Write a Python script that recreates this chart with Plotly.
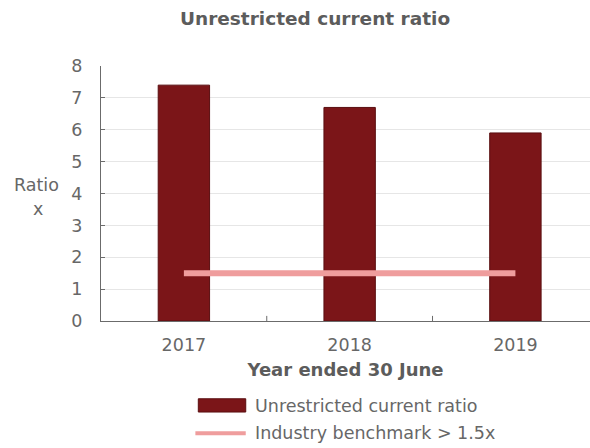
import plotly.graph_objects as go

# Unrestricted current ratio by financial year
years = ["2017", "2018", "2019"]
ratio = [7.4, 6.7, 5.9]
benchmark = [1.5, 1.5, 1.5]
y_ticks = [0, 1, 2, 3, 4, 5, 6, 7, 8]

bar_name = "Unrestricted current ratio"
line_name = "Industry benchmark > 1.5x"

font_family = "DejaVu Sans, Verdana, sans-serif"
text_grey = "#676767"
head_grey = "#5c5c5c"
bar_red = "#7b1518"
line_pink = "#ef9d9d"
fs = 17.5

fig = go.Figure()

fig.add_trace(go.Bar(
    x=years, y=ratio, name=bar_name,
    marker=dict(color=bar_red, line=dict(color="#5a0e10", width=1)),
    width=0.31, showlegend=False,
))

fig.add_trace(go.Scatter(
    x=years, y=benchmark, name=line_name, mode="lines",
    line=dict(color=line_pink, width=6), showlegend=False,
))

fig.update_layout(
    width=590, height=448,
    margin=dict(l=101, r=0, t=66, b=127),
    paper_bgcolor="white", plot_bgcolor="white",
    font=dict(family=font_family, size=fs, color=text_grey),
    title=dict(
        text="<b>Unrestricted current ratio</b>",
        x=0.534, xanchor="center", y=0.958, yanchor="middle",
        font=dict(size=18.5, color=head_grey),
    ),
    showlegend=False,
)

fig.update_xaxes(
    type="category", range=[-0.5, 2.45],
    showline=True, linecolor="#6b6b6b", linewidth=1,
    ticks="", showgrid=False, ticklabelstandoff=8,
    tickfont=dict(size=fs, color=text_grey),
    title=dict(text="<b>Year ended 30 June</b>", standoff=9,
               font=dict(size=18, color=head_grey)),
)

fig.update_yaxes(
    range=[0, 8], tickvals=y_ticks,
    showline=True, linecolor="#6b6b6b", linewidth=1,
    ticks="inside", ticklen=4, tickcolor="#6b6b6b",
    showgrid=True, gridcolor="#e6e6e6", gridwidth=1,
    ticklabelstandoff=14,
    tickfont=dict(size=fs, color=text_grey),
    zeroline=False,
)

# Category separator ticks along the x axis
for b in [0.5, 1.5]:
    fig.add_shape(type="line", xref="x", yref="paper",
                  x0=b, x1=b, y0=0, y1=0.02,
                  line=dict(color="#6b6b6b", width=1))

# Horizontal y-axis caption
fig.add_annotation(
    text="Ratio", xref="paper", yref="paper",
    x=-0.131, y=0.535, xanchor="center", yanchor="middle",
    showarrow=False, font=dict(size=fs, color=text_grey),
)
fig.add_annotation(
    text="x", xref="paper", yref="paper",
    x=-0.129, y=0.44, xanchor="center", yanchor="middle",
    showarrow=False, font=dict(size=fs, color=text_grey),
)

# Legend drawn below the axis title: swatch + label per series
fig.add_shape(type="rect", xref="paper", yref="paper",
              x0=0.199, x1=0.296, y0=-0.305, y1=-0.357,
              fillcolor=bar_red, line=dict(color="#5a0e10", width=1))
fig.add_shape(type="line", xref="paper", yref="paper",
              x0=0.193, x1=0.296, y0=-0.44, y1=-0.44,
              line=dict(color=line_pink, width=4))
for label, yp in [(bar_name, -0.333), (line_name, -0.44)]:
    fig.add_annotation(
        text=label, xref="paper", yref="paper",
        x=0.31, y=yp, xanchor="left", yanchor="middle",
        showarrow=False, font=dict(size=fs, color=text_grey),
    )

fig.write_html("out.html")
